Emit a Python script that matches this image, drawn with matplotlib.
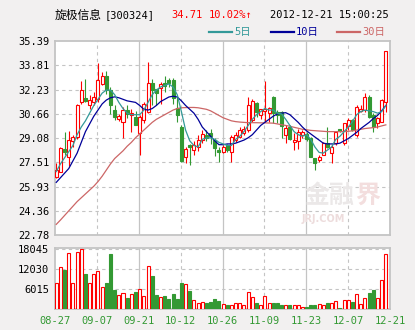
import numpy as np
import matplotlib.pyplot as plt
from matplotlib.lines import Line2D

plt.rcParams['font.family'] = ['DejaVu Sans Mono', 'Noto Sans CJK SC']

# header info
stock_name = "旋极信息"
stock_code = "[300324]"
last_price = "34.71"
pct_change = "10.02%↑"
timestamp = "2012-12-21 15:00:25"

date_labels = ["08-27", "09-07", "09-21", "10-12", "10-26", "11-09", "11-23", "12-07", "12-21"]
price_ticks = [22.78, 24.36, 25.93, 27.51, 29.08, 30.66, 32.23, 33.81, 35.39]
volume_ticks = [6015, 12030, 18045]

# daily k-line, 80 trading days
opens = [26.55, 26.90, 28.38, 27.85, 28.90, 29.18, 31.44, 31.66, 31.20, 31.43,
         31.65, 32.62, 33.10, 32.19, 30.93, 30.29, 30.13, 30.89, 30.60, 30.42,
         29.40, 30.25, 30.80, 32.67, 32.24, 32.35, 32.67, 32.88, 32.84, 31.01,
         29.78, 27.86, 28.62, 28.29, 28.51, 28.94, 29.27, 29.40, 28.95, 28.29,
         28.18, 28.62, 28.18, 28.94, 29.16, 29.44, 29.61, 30.26, 31.33, 30.58,
         30.86, 30.69, 31.76, 30.80, 30.80, 29.25, 29.80, 28.85, 28.86, 29.29,
         29.35, 29.10, 27.76, 27.63, 28.00, 28.74, 28.10, 28.75, 29.65, 28.75,
         29.87, 30.26, 29.29, 30.86, 30.90, 31.72, 30.58, 30.04, 30.15, 31.44]
highs = [27.46, 28.50, 29.50, 29.55, 29.30, 31.30, 32.80, 32.95, 31.90, 32.05,
         33.96, 33.35, 33.44, 32.40, 31.21, 30.65, 31.10, 31.20, 31.00, 30.85,
         30.55, 31.45, 34.00, 32.95, 32.30, 32.73, 33.10, 33.00, 33.00, 31.87,
         29.90, 28.50, 28.72, 28.90, 29.30, 29.60, 29.60, 29.70, 29.10, 28.50,
         28.60, 28.70, 29.30, 29.45, 29.80, 29.87, 31.76, 31.60, 31.44, 31.00,
         32.80, 31.12, 31.80, 30.90, 30.85, 29.95, 29.90, 29.40, 29.70, 29.60,
         29.50, 29.15, 27.80, 28.00, 28.82, 29.80, 28.71, 29.50, 29.70, 30.04,
         30.37, 30.30, 31.23, 31.23, 31.98, 31.87, 30.69, 30.43, 31.60, 34.71]
lows = [26.50, 26.85, 28.00, 27.25, 28.50, 29.00, 31.30, 31.40, 30.95, 31.20,
        31.43, 32.50, 31.97, 30.67, 30.24, 30.20, 29.07, 30.40, 29.50, 29.90,
        28.00, 30.05, 30.70, 31.22, 31.20, 31.30, 32.10, 32.40, 31.30, 30.15,
        27.50, 27.43, 27.32, 28.00, 28.25, 28.75, 28.90, 28.70, 27.90, 27.54,
        28.10, 28.20, 27.54, 28.80, 29.10, 29.29, 29.50, 30.15, 30.47, 30.30,
        30.15, 30.13, 30.04, 30.04, 29.10, 28.75, 28.95, 28.30, 28.40, 29.10,
        28.90, 27.82, 27.03, 27.50, 27.95, 28.45, 27.46, 28.65, 29.45, 28.65,
        29.61, 29.55, 29.18, 30.80, 30.80, 30.37, 29.50, 29.72, 30.10, 30.80]
closes = [27.03, 28.43, 28.15, 28.95, 29.18, 31.23, 32.20, 31.47, 31.55, 31.76,
          32.84, 33.10, 32.19, 31.21, 30.45, 30.50, 30.93, 30.67, 30.70, 29.92,
          30.45, 31.27, 32.67, 32.20, 32.00, 32.62, 32.45, 32.67, 31.70, 30.58,
          27.57, 28.40, 28.52, 28.62, 28.94, 29.37, 29.11, 29.20, 28.42, 28.18,
          28.51, 28.29, 29.16, 29.27, 29.59, 29.65, 31.23, 31.51, 30.80, 30.95,
          31.00, 31.05, 30.69, 30.58, 29.88, 29.72, 29.05, 28.95, 29.50, 29.50,
          29.05, 27.85, 27.45, 27.85, 28.76, 28.50, 28.49, 29.50, 29.52, 30.04,
          30.26, 29.61, 31.12, 30.97, 31.72, 30.47, 29.78, 30.37, 31.55, 34.71]
volumes = [7700, 12570, 11760, 16830, 7700, 17140, 18045, 10440, 7700, 10440,
           11460, 6490, 7700, 16330, 5680, 4060, 4660, 3250, 4360, 5070,
           5880, 3750, 12880, 9940, 4160, 3550, 3750, 2940, 4460, 2940,
           7810, 7400, 5370, 2540, 1930, 2230, 1720, 2030, 2940, 2330,
           1620, 1115, 1320, 1720, 1720, 1320, 4970, 3550, 1720, 1320,
           3750, 1930, 1720, 1720, 1115, 1320, 1320, 1320, 1320, 710,
           710, 1115, 1115, 1620, 1320, 1720, 1720, 2330, 200, 2640,
           2640, 2230, 4360, 1620, 3140, 4770, 5680, 3140, 8720, 16330]

# moving averages
ma5 = [26.90, 27.40, 27.80, 28.20, 28.60, 29.30, 29.80, 30.20, 30.70, 31.20,
       31.60, 32.00, 32.20, 32.20, 31.90, 31.40, 31.00, 30.70, 30.60, 30.60,
       30.60, 30.90, 31.40, 31.90, 32.20, 32.40, 32.50, 32.60, 32.40, 31.90,
       30.80, 29.60, 28.90, 28.60, 28.50, 29.00, 29.10, 29.10, 29.00, 28.80,
       28.70, 28.60, 28.60, 29.00, 29.20, 29.50, 29.90, 30.30, 30.60, 30.80,
       31.00, 30.90, 30.90, 30.70, 30.65, 30.30, 29.90, 29.50, 29.30, 29.20,
       29.30, 29.00, 28.50, 28.15, 28.10, 28.30, 28.50, 29.00, 29.20, 29.50,
       29.80, 30.15, 30.60, 30.80, 30.90, 30.85, 30.80, 30.70, 30.80, 31.20]
ma10 = [26.20, 26.50, 26.80, 27.10, 27.60, 28.10, 28.80, 29.50, 30.00, 30.50,
        30.90, 31.30, 31.55, 31.70, 31.76, 31.70, 31.60, 31.50, 31.45, 31.40,
        31.20, 30.95, 30.90, 31.00, 31.20, 31.45, 31.60, 31.75, 31.80, 31.75,
        31.50, 31.20, 30.95, 30.70, 30.30, 29.80, 29.50, 29.20, 28.90, 28.65,
        28.65, 28.70, 28.70, 28.75, 28.85, 28.95, 29.10, 29.30, 29.60, 29.90,
        30.10, 30.30, 30.50, 30.65, 30.70, 30.73, 30.60, 30.35, 30.10, 29.80,
        29.55, 29.35, 29.15, 28.95, 28.75, 28.70, 28.70, 28.70, 28.75, 28.90,
        29.05, 29.25, 29.45, 29.70, 29.90, 30.10, 30.35, 30.55, 30.85, 31.20]
ma30 = [23.47, 23.75, 24.05, 24.35, 24.65, 24.95, 25.20, 25.45, 25.70, 25.95,
        26.25, 26.60, 27.00, 27.40, 27.75, 28.00, 28.25, 28.55, 28.80, 29.10,
        29.35, 29.60, 29.85, 30.10, 30.30, 30.45, 30.60, 30.75, 30.90, 31.00,
        31.05, 31.06, 31.07, 31.07, 31.05, 31.00, 30.95, 30.85, 30.70, 30.55,
        30.40, 30.30, 30.20, 30.15, 30.12, 30.10, 30.08, 30.08, 30.08, 30.07,
        30.07, 30.06, 30.05, 30.00, 29.95, 29.90, 29.85, 29.78, 29.72, 29.65,
        29.62, 29.58, 29.56, 29.54, 29.52, 29.50, 29.50, 29.50, 29.50, 29.50,
        29.52, 29.55, 29.60, 29.65, 29.70, 29.73, 29.76, 29.80, 29.87, 29.94]

UP = '#ff0000'
DOWN = '#339933'
C5 = '#339999'
C10 = '#000099'
C30 = '#cc6666'
BG = '#f2f0f0'
FRAME = '#c4c4c4'

W, H = 415, 330
fig = plt.figure(figsize=(W / 100, H / 100), dpi=100, facecolor=BG)

def px(x, y):
    return x / W, 1 - y / H

ax = fig.add_axes([55 / W, 95 / H, 335 / W, 194 / H])
axv = fig.add_axes([55 / W, 21 / H, 335 / W, 61 / H])

x = np.arange(len(closes))
o = np.array(opens)
c = np.array(closes)
up = c >= o
xmin, xmax = -0.3, 80.0
gridx = np.linspace(xmin, xmax, 9)

for a in (ax, axv):
    a.set_facecolor('white')
    a.set_xlim(xmin, xmax)
    for s in a.spines.values():
        s.set_color(FRAME)
        s.set_linewidth(1.3)
    for k in range(1, 8):
        a.axvline(gridx[k], color=FRAME, linewidth=0.9 if k % 2 == 0 else 0.8,
                  linestyle='-' if k % 2 == 0 else (0, (3, 3)), zorder=0)
    a.tick_params(length=0, labelsize=7.5, pad=4)

# price panel
ax.set_ylim(price_ticks[0], price_ticks[-1])
ax.set_yticks(price_ticks)
ax.set_yticklabels(["%.2f" % t for t in price_ticks])
ax.set_xticks([])
for t in price_ticks[1:-1]:
    ax.axhline(t, color=FRAME, linewidth=0.8, linestyle=(0, (3, 3)), zorder=0)

# watermark sits under the candles
ax.text(0.895, 0.2, "金融", transform=ax.transAxes, family='Noto Sans CJK SC',
        fontsize=18, fontweight='bold', color='#ebe8e8', ha='right', va='center', zorder=0.5)
ax.text(0.897, 0.2, "界", transform=ax.transAxes, family='Noto Sans CJK SC',
        fontsize=18, fontweight='bold', color='#f3dede', ha='left', va='center', zorder=0.5)
ax.text(0.8, 0.08, "JRJ.COM", transform=ax.transAxes, family='DejaVu Sans',
        fontsize=7, fontweight='bold', color='#eddcdc', ha='center', va='center', zorder=0.5)

cols = np.where(up, UP, DOWN)
ax.vlines(x, lows, highs, colors=cols, linewidth=0.8, zorder=2)
body_h = np.maximum(np.abs(c - o), 0.04)
body_b = np.minimum(o, c)
ax.bar(x[up], body_h[up], bottom=body_b[up], width=0.72, facecolor='white',
       edgecolor=UP, linewidth=0.8, zorder=3)
ax.bar(x[~up], body_h[~up], bottom=body_b[~up], width=0.72, facecolor=DOWN,
       edgecolor=DOWN, linewidth=0.8, zorder=3)

ax.plot(x, ma30, color=C30, linewidth=0.9, zorder=4)
ax.plot(x, ma10, color=C10, linewidth=0.9, zorder=4)
ax.plot(x, ma5, color=C5, linewidth=0.9, zorder=4)

# volume panel
vol = np.array(volumes)
axv.set_ylim(0, 18045 * 1.01)
axv.set_yticks(volume_ticks)
axv.set_yticklabels([str(v) for v in volume_ticks])
for t in volume_ticks:
    axv.axhline(t, color=FRAME, linewidth=0.8, linestyle=(0, (3, 3)), zorder=0)
axv.bar(x[up], vol[up], width=0.72, facecolor='white', edgecolor=UP, linewidth=0.8, zorder=3)
axv.bar(x[~up], vol[~up], width=0.72, facecolor=DOWN, edgecolor=DOWN, linewidth=0.8, zorder=3)
axv.set_xticks(gridx)
axv.set_xticklabels(date_labels, color=DOWN, fontsize=7.5)
axv.tick_params(axis='x', pad=5)

# header
fig.text(*px(55, 15), stock_name, family='Noto Sans CJK SC', fontsize=8.5, va='center')
fig.text(*px(105, 15), stock_code, fontsize=7.5, va='center')
fig.text(*px(171, 15), last_price, color=UP, fontsize=7.5, va='center')
fig.text(*px(209, 15), pct_change, color=UP, fontsize=7.5, va='center')
fig.text(*px(389, 15), timestamp, fontsize=7.5, va='center', ha='right')

# legend
for x0, label, col in [(209, "5日", C5), (271, "10日", C10), (337, "30日", C30)]:
    fig.add_artist(Line2D([x0 / W, (x0 + 23) / W], [1 - 32 / H, 1 - 32 / H], color=col, linewidth=1.6))
    fig.text(*px(x0 + 25, 32), label, color=col, fontsize=7.5, va='center')

fig.savefig('out.png', dpi=100, facecolor=BG)
